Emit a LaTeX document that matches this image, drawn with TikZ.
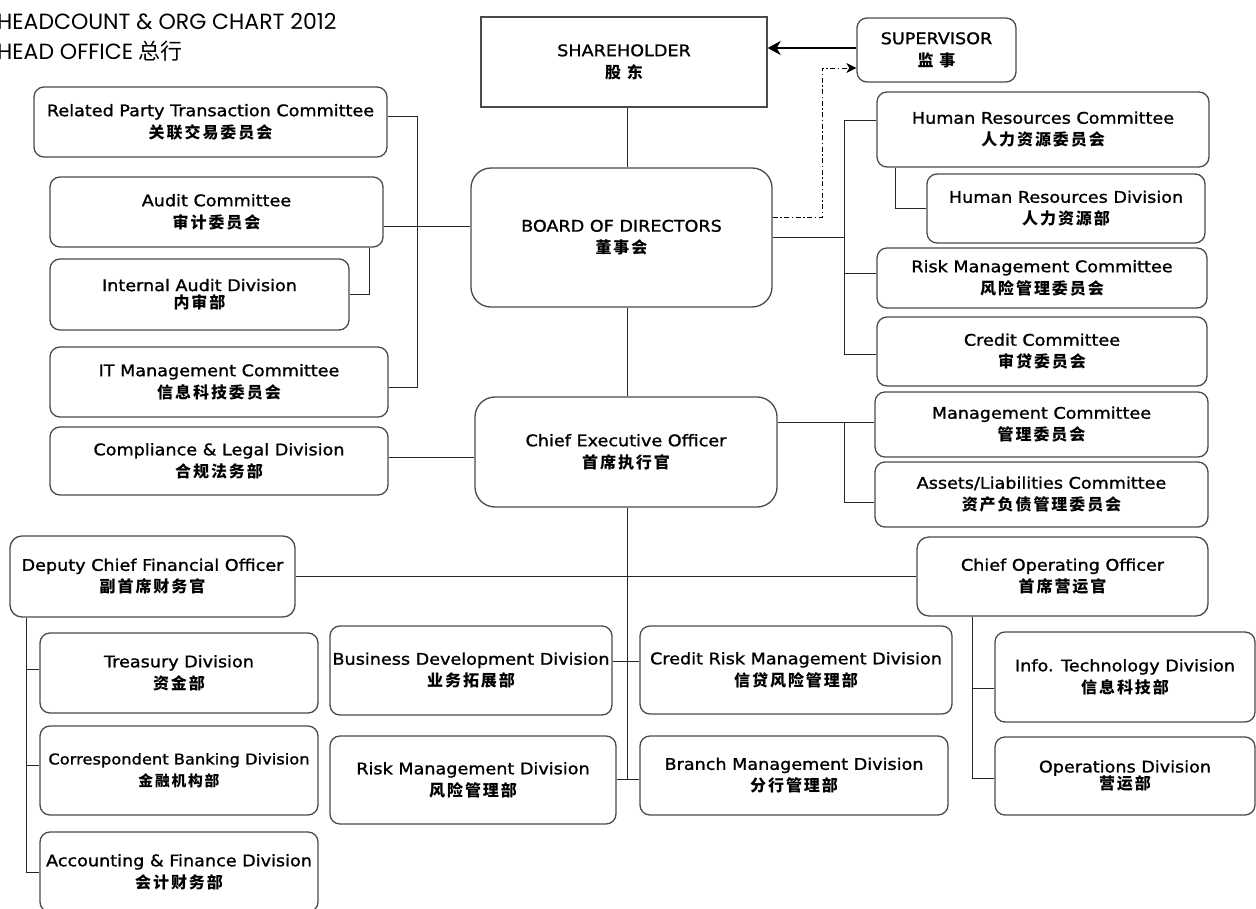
\documentclass[tikz,border=0pt]{standalone}
\usepackage{fontspec}
\setmainfont{DejaVu Sans}[FakeStretch=1.1, FakeBold=1.2]
\newfontfamily\cjk{Noto Sans CJK SC}[LetterSpace=12]
\newfontfamily\cjktitle{Noto Sans CJK SC}
\newfontfamily\titlefont{Poppins}
\usetikzlibrary{arrows.meta}
\definecolor{boxgray}{HTML}{4A4A4A}
\newcommand\zh[1]{{\cjk\bfseries #1}}
\newcommand\boxfont{\fontsize{16}{22}\selectfont}
\newcommand\tightfont{\fontsize{16}{17.5}\selectfont}
\newcommand\narrowfont{\fontsize{14.8}{22}\selectfont}
\tikzset{
  box/.style={draw=boxgray, line width=1.3pt, rounded corners=10pt, inner sep=0pt,
    align=center, font=\boxfont, fill=white},
  bigbox/.style={box, rounded corners=20pt},
  tightbox/.style={box, font=\tightfont},
  narrowbox/.style={box, font=\narrowfont},
  conn/.style={line width=1pt, draw=black!85},
  titletext/.style={anchor=base west, inner sep=0pt, font=\titlefont\fontsize{22}{28}\selectfont},
}
\begin{document}
\begin{tikzpicture}[x=1pt, y=-1pt]
\useasboundingbox (0,0) rectangle (1256,909);
% title
\node[titletext] (title1) at (-3,30) {HEADCOUNT \& ORG CHART 2012};
\node[titletext] (title2) at (-3,60) {HEAD OFFICE {\cjktitle 总行}};
% top
\node[box, rounded corners=0pt, minimum width=286pt, minimum height=90pt] (sh) at (624,62) {SHAREHOLDER\\\zh{股 东}};
\node[box, minimum width=159pt, minimum height=64pt] (sup) at (936.5,50) {SUPERVISOR\\\zh{监 事}};
% left committees
\node[box, minimum width=353pt, minimum height=70pt] (rpt) at (210.5,122) {Related Party Transaction Committee\\\zh{关联交易委员会}};
\node[box, minimum width=333pt, minimum height=70pt] (aud) at (216.5,212) {Audit Committee\\\zh{审计委员会}};
\node[tightbox, minimum width=299pt, minimum height=71pt] (iad) at (199.5,294.5) {Internal Audit Division\\\zh{内审部}};
\node[box, minimum width=338pt, minimum height=70pt] (itm) at (219,382) {IT Management Committee\\\zh{信息科技委员会}};
\node[box, minimum width=338pt, minimum height=68pt] (cld) at (219,461) {Compliance \& Legal Division\\\zh{合规法务部}};
% centre
\node[bigbox, minimum width=301pt, minimum height=139pt] (bod) at (621.5,237.5) {BOARD OF DIRECTORS\\\zh{董事会}};
\node[bigbox, minimum width=302pt, minimum height=110pt] (ceo) at (626,452) {Chief Executive Officer\\\zh{首席执行官}};
% right committees
\node[box, minimum width=332pt, minimum height=75pt] (hrc) at (1043,129.5) {Human Resources Committee\\\zh{人力资源委员会}};
\node[box, minimum width=278pt, minimum height=69pt] (hrd) at (1066,208.5) {Human Resources Division\\\zh{人力资源部}};
\node[box, minimum width=330pt, minimum height=60pt] (rmc) at (1042,278) {Risk Management Committee\\\zh{风险管理委员会}};
\node[box, minimum width=330pt, minimum height=69pt] (crc) at (1042,351.5) {Credit Committee\\\zh{审贷委员会}};
\node[box, minimum width=333pt, minimum height=65pt] (mgc) at (1041.5,424.5) {Management Committee\\\zh{管理委员会}};
\node[box, minimum width=333pt, minimum height=65pt] (alc) at (1041.5,494.5) {Assets/Liabilities Committee\\\zh{资产负债管理委员会}};
% officers
\node[box, rounded corners=12pt, minimum width=285pt, minimum height=81pt] (dcfo) at (152.5,576.5) {Deputy Chief Financial Officer\\\zh{副首席财务官}};
\node[box, rounded corners=12pt, minimum width=291pt, minimum height=79pt] (coo) at (1062.5,576.5) {Chief Operating Officer\\\zh{首席营运官}};
% divisions
\node[box, minimum width=278pt, minimum height=80pt] (trd) at (179,673) {Treasury Division\\\zh{资金部}};
\node[narrowbox, minimum width=278pt, minimum height=89pt] (cbd) at (179,770.5) {Correspondent Banking Division\\\zh{金融机构部}};
\node[box, minimum width=278pt, minimum height=80pt] (afd) at (179,872) {Accounting \& Finance Division\\\zh{会计财务部}};
\node[box, minimum width=282pt, minimum height=89pt] (bdd) at (471,670.5) {Business Development Division\\\zh{业务拓展部}};
\node[box, minimum width=286pt, minimum height=88pt] (rmd) at (473,780) {Risk Management Division\\\zh{风险管理部}};
\node[box, minimum width=312pt, minimum height=88pt] (crd) at (796,670) {Credit Risk Management Division\\\zh{信贷风险管理部}};
\node[box, minimum width=308pt, minimum height=79pt] (bmd) at (794,775.5) {Branch Management Division\\\zh{分行管理部}};
\node[box, minimum width=260pt, minimum height=90pt] (itd) at (1125,677) {Info. Technology Division\\\zh{信息科技部}};
\node[tightbox, minimum width=260pt, minimum height=78pt] (opd) at (1125,776) {Operations Division\\\zh{营运部}};

% ---- connectors ----
\coordinate (spine) at (627,0);
\draw[conn] (spine |- sh.south) -- (spine |- bod.north);
\draw[conn] (spine |- bod.south) -- (spine |- ceo.north);
\coordinate (rmdE) at ([yshift=1pt]rmd.east);
\draw[conn] (spine |- ceo.south) -- (spine |- rmdE);
\draw[conn] (rmdE) -- (rmdE -| bmd.west);
\coordinate (bddE) at ([yshift=9.5pt]bdd.east);
\draw[conn] (bddE) -- (bddE -| crd.west);
\draw[conn] (dcfo.east) -- (coo.west);
% left group
\draw[conn] ([yshift=5pt]rpt.east) -- ++(30,0) |- ([yshift=-5pt]itm.east);
\coordinate (audE) at ([yshift=-15pt]aud.east);
\draw[conn] (audE) -- (audE -| bod.west);
\draw[conn] ([xshift=-14pt]aud.south east) |- (iad.east);
\coordinate (cldE) at ([yshift=4pt]cld.east);
\draw[conn] (cldE) -- (cldE -| ceo.west);
% right group
\coordinate (rv) at (844,0);
\coordinate (crcW) at ([yshift=-3.5pt]crc.west);
\draw[conn] ([yshift=9pt]hrc.west) -| (rv |- crcW) -- (crcW);
\draw[conn] (bod.east) -- (rv |- bod.east);
\coordinate (rmcW) at ([yshift=4pt]rmc.west);
\draw[conn] (rv |- rmcW) -- (rmcW);
\draw[conn] ([xshift=19pt]hrc.south west) |- (hrd.west);
\coordinate (ceoE) at ([yshift=30pt]ceo.east);
\draw[conn] (ceoE) -- (ceoE -| mgc.west);
\coordinate (alcW) at ([yshift=-7.5pt]alc.west);
\draw[conn] (rv |- ceoE) |- (alcW);
% COO group
\coordinate (cv) at ([xshift=56pt]coo.south west);
\coordinate (itdW) at ([yshift=-11pt]itd.west);
\coordinate (opdW) at ([yshift=-2pt]opd.west);
\draw[conn] (cv) |- (opdW);
\draw[conn] (cv |- itdW) -- (itdW);
% DCFO group
\coordinate (dv) at ([xshift=17pt]dcfo.south west);
\coordinate (trdW) at ([yshift=4pt]trd.west);
\coordinate (cbdW) at ([yshift=5.5pt]cbd.west);
\draw[conn] (dv) |- (afd.west);
\draw[conn] (dv |- trdW) -- (trdW);
\draw[conn] (dv |- cbdW) -- (cbdW);
% supervisor arrows
\coordinate (supA) at ([yshift=2pt]sup.west);
\draw[line width=2.8pt, -{Stealth[length=13pt, width=14pt, inset=4pt]}] (supA) -- (supA -| sh.east);
\coordinate (supB) at ([yshift=-18pt]sup.west);
\coordinate (dd) at (822,0);
\draw[line width=0.9pt, dash pattern=on 5pt off 2.5pt on 1.5pt off 2.5pt, -{Stealth[length=10pt, width=10pt, inset=3pt]}]
  ([yshift=20pt]bod.east) -| (dd |- supB) -- (supB);
\end{tikzpicture}
\end{document}
